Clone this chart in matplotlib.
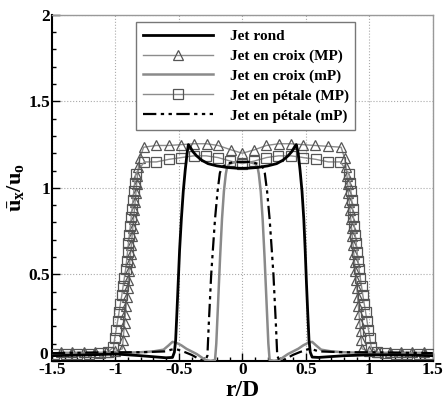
import numpy as np
import matplotlib.pyplot as plt
from matplotlib.ticker import MultipleLocator, FuncFormatter

plt.rcParams['font.family'] = 'Liberation Serif'
plt.rcParams['font.weight'] = 'bold'
plt.rcParams['mathtext.fontset'] = 'custom'
plt.rcParams['mathtext.rm'] = 'Liberation Serif:bold'
plt.rcParams['mathtext.it'] = 'Liberation Serif:bold'
plt.rcParams['mathtext.bf'] = 'Liberation Serif:bold'

# Jet rond
r_rond = [-1.5, -1.2, -1.0, -0.8, -0.6, -0.55, -0.535, -0.525, -0.515, -0.505, -0.494, -0.48,
          -0.465, -0.45, -0.435, -0.425, -0.41, -0.39, -0.36, -0.32, -0.27, -0.2, -0.12, -0.05,
          0.0, 0.05, 0.12, 0.2, 0.27, 0.32, 0.36, 0.39, 0.41, 0.425, 0.44, 0.455, 0.47, 0.484,
          0.495, 0.505, 0.515, 0.525, 0.535, 0.55, 0.6, 0.8, 1.0, 1.2, 1.5]
u_rond = [0.03, 0.035, 0.04, 0.03, 0.018, 0.02, 0.05, 0.12, 0.28, 0.45, 0.64, 0.82,
          0.98, 1.1, 1.2, 1.25, 1.235, 1.21, 1.185, 1.16, 1.14, 1.127, 1.118, 1.114,
          1.113, 1.114, 1.118, 1.127, 1.14, 1.16, 1.185, 1.21, 1.235, 1.25, 1.2, 1.1, 0.98, 0.82,
          0.64, 0.45, 0.28, 0.12, 0.05, 0.022, 0.02, 0.03, 0.035, 0.035, 0.03]

# Jet en croix (MP)
r_cMP = [-1.43, -1.34, -1.25, -1.16, -1.07, -1.00,
         -0.945, -0.939, -0.933, -0.927, -0.921, -0.915, -0.909, -0.904, -0.898, -0.892,
         -0.886, -0.880, -0.874, -0.868, -0.862, -0.856, -0.850, -0.844, -0.838, -0.832,
         -0.826, -0.818, -0.808,
         -0.777, -0.677, -0.577, -0.479, -0.380, -0.282, -0.190, -0.090, 0.0,
         0.095, 0.190, 0.287, 0.381, 0.474, 0.571, 0.675, 0.778,
         0.806, 0.816, 0.824, 0.830, 0.836, 0.842, 0.848, 0.854, 0.860, 0.866, 0.872,
         0.878, 0.884, 0.890, 0.896, 0.902, 0.907, 0.913, 0.919, 0.925, 0.931, 0.937,
         0.943, 1.00, 1.07, 1.16, 1.25, 1.34, 1.43]
u_cMP = [0.05, 0.05, 0.05, 0.05, 0.05, 0.055,
         0.07, 0.12, 0.17, 0.22, 0.27, 0.32, 0.37, 0.42, 0.47, 0.52,
         0.57, 0.62, 0.67, 0.72, 0.77, 0.82, 0.87, 0.92, 0.97, 1.02,
         1.07, 1.12, 1.17,
         1.235, 1.245, 1.245, 1.25, 1.255, 1.255, 1.245, 1.22, 1.20,
         1.22, 1.245, 1.255, 1.255, 1.25, 1.245, 1.24, 1.235,
         1.17, 1.12, 1.07, 1.02, 0.97, 0.92, 0.87, 0.82, 0.77, 0.72, 0.67,
         0.62, 0.57, 0.52, 0.47, 0.42, 0.37, 0.32, 0.27, 0.22, 0.17, 0.12,
         0.07, 0.055, 0.05, 0.05, 0.05, 0.05, 0.05]

# Jet en croix (mP)
r_cmP = [-1.5, -1.0, -0.8, -0.7, -0.62, -0.58, -0.55, -0.52, -0.48, -0.44, -0.4, -0.36,
         -0.32, -0.29, -0.25, -0.215, -0.205, -0.19, -0.175, -0.16, -0.145, -0.13, -0.12,
         -0.1, -0.05, 0.0, 0.05, 0.1, 0.12, 0.13, 0.145, 0.16, 0.175, 0.19, 0.205, 0.215,
         0.25, 0.29, 0.32, 0.36, 0.4, 0.44, 0.48, 0.52, 0.55, 0.58, 0.62, 0.7, 0.8, 1.0, 1.5]
u_cmP = [0.04, 0.045, 0.05, 0.055, 0.065, 0.09, 0.11, 0.105, 0.09, 0.07, 0.055, 0.04,
         0.02, 0.005, 0.0, 0.005, 0.1, 0.35, 0.6, 0.82, 0.98, 1.08, 1.12,
         1.14, 1.15, 1.15, 1.15, 1.14, 1.12, 1.08, 0.98, 0.82, 0.6, 0.35, 0.1, 0.005,
         0.0, 0.005, 0.02, 0.04, 0.055, 0.07, 0.09, 0.105, 0.11, 0.09, 0.065, 0.055, 0.05, 0.045, 0.04]

# Jet en petale (MP)
r_pMP = [-1.48, -1.39, -1.30, -1.21, -1.12, -1.06,
         -1.015, -1.005, -0.993, -0.982, -0.971, -0.960, -0.949, -0.939, -0.929, -0.919,
         -0.911, -0.904, -0.897, -0.889, -0.882, -0.875, -0.868, -0.861, -0.855, -0.848, -0.840,
         -0.772, -0.677, -0.578, -0.480, -0.384, -0.284, -0.190, -0.095, 0.0,
         0.095, 0.190, 0.284, 0.384, 0.480, 0.578, 0.677, 0.772,
         0.840, 0.848, 0.855, 0.861, 0.868, 0.875, 0.882, 0.889, 0.897, 0.904, 0.911,
         0.919, 0.929, 0.939, 0.949, 0.960, 0.971, 0.982, 0.993, 1.005, 1.015,
         1.06, 1.12, 1.21, 1.30, 1.39, 1.48]
u_pMP = [0.04, 0.04, 0.04, 0.04, 0.045, 0.05,
         0.08, 0.13, 0.18, 0.23, 0.28, 0.33, 0.38, 0.43, 0.48, 0.53,
         0.58, 0.63, 0.68, 0.73, 0.78, 0.83, 0.88, 0.93, 0.98, 1.03, 1.08,
         1.15, 1.15, 1.165, 1.175, 1.185, 1.185, 1.175, 1.155, 1.14,
         1.155, 1.175, 1.185, 1.185, 1.175, 1.165, 1.15, 1.15,
         1.08, 1.03, 0.98, 0.93, 0.88, 0.83, 0.78, 0.73, 0.68, 0.63, 0.58,
         0.53, 0.48, 0.43, 0.38, 0.33, 0.28, 0.23, 0.18, 0.13, 0.08,
         0.05, 0.045, 0.04, 0.04, 0.04, 0.04]

# Jet en petale (mP)
r_pmP = [-1.5, -1.0, -0.8, -0.6, -0.56, -0.52, -0.45, -0.4, -0.35, -0.31, -0.29, -0.275,
         -0.265, -0.255, -0.245, -0.232, -0.215, -0.195, -0.177, -0.16, -0.12, -0.06, 0.0,
         0.06, 0.12, 0.16, 0.177, 0.195, 0.215, 0.232, 0.245, 0.255, 0.265, 0.275, 0.29,
         0.31, 0.35, 0.4, 0.45, 0.52, 0.56, 0.6, 0.8, 1.0, 1.5]
u_pmP = [0.045, 0.05, 0.05, 0.055, 0.065, 0.068, 0.05, 0.035, 0.015, 0.0, 0.005, 0.03,
         0.2, 0.35, 0.5, 0.64, 0.82, 0.98, 1.085, 1.12, 1.14, 1.15, 1.15,
         1.15, 1.14, 1.12, 1.085, 0.98, 0.82, 0.64, 0.5, 0.35, 0.2, 0.03, 0.005,
         0.0, 0.015, 0.035, 0.05, 0.068, 0.065, 0.055, 0.05, 0.05, 0.045]

fig = plt.figure(figsize=(4.43, 4.01), dpi=100)
ax = fig.add_axes([0.117, 0.10, 0.860, 0.863])

ax.plot(r_rond, u_rond, color='black', lw=2.0, label='Jet rond', zorder=5)
ax.plot(r_cMP, u_cMP, color='#8c8c8c', lw=1.0, marker='^', ms=7, mfc='none',
        mec='#555555', mew=0.9, label='Jet en croix (MP)', zorder=3)
ax.plot(r_cmP, u_cmP, color='#8a8a8a', lw=1.8, label='Jet en croix (mP)', zorder=4)
ax.plot(r_pMP, u_pMP, color='#8c8c8c', lw=1.0, marker='s', ms=7, mfc='none',
        mec='#555555', mew=0.9, label='Jet en pétale (MP)', zorder=3)
ax.plot(r_pmP, u_pmP, color='black', lw=1.6, ls=(0, (6, 2, 1.5, 2, 1.5, 2)),
        label='Jet en pétale (mP)', zorder=4)

ax.set_xlim(-1.5, 1.5)
ax.set_ylim(0, 2)
ax.xaxis.set_major_locator(MultipleLocator(0.5))
ax.xaxis.set_minor_locator(MultipleLocator(0.1))
ax.yaxis.set_major_locator(MultipleLocator(0.5))
ax.yaxis.set_minor_locator(MultipleLocator(0.1))
ax.xaxis.set_major_formatter(FuncFormatter(lambda v, p: '%g' % v))
# the y "0" is written separately below, a little higher, so it clears "-1.5"
ax.yaxis.set_major_formatter(FuncFormatter(lambda v, p: '' if v == 0 else '%g' % v))
ax.tick_params(which='both', direction='in', labelsize=12.5, width=1.0)
ax.tick_params(which='major', length=6)
ax.tick_params(which='minor', length=3)
ax.tick_params(axis='x', pad=1)
ax.tick_params(axis='y', pad=1)
for lab in ax.get_xticklabels() + ax.get_yticklabels():
    lab.set_fontweight('bold')
ax.annotate('0', xy=(0, 0), xycoords='axes fraction', xytext=(-2.5, 4),
            textcoords='offset points', ha='right', va='center',
            fontsize=12.5, fontweight='bold')
ax.grid(True, which='major', color='#aaaaaa', ls=':', lw=0.8)

for s in ['left', 'bottom']:
    ax.spines[s].set_linewidth(1.5)
for s in ['top', 'right']:
    ax.spines[s].set_color('#999999')
    ax.spines[s].set_linewidth(1.0)

ax.set_xlabel('r/D', fontsize=17, fontweight='bold', labelpad=1)
ax.set_ylabel(r'$\bar{u}_x/u_o$', fontsize=16, labelpad=2)

leg = ax.legend(loc='upper left', bbox_to_anchor=(0.2, 1.0), fontsize=11,
                handlelength=4.6, handletextpad=1.1, labelspacing=0.4,
                borderpad=0.45, fancybox=False, edgecolor='#777777', framealpha=1)
leg.get_frame().set_linewidth(1.0)
for t in leg.get_texts():
    t.set_fontweight('bold')

fig.savefig('out.png', dpi=100)
